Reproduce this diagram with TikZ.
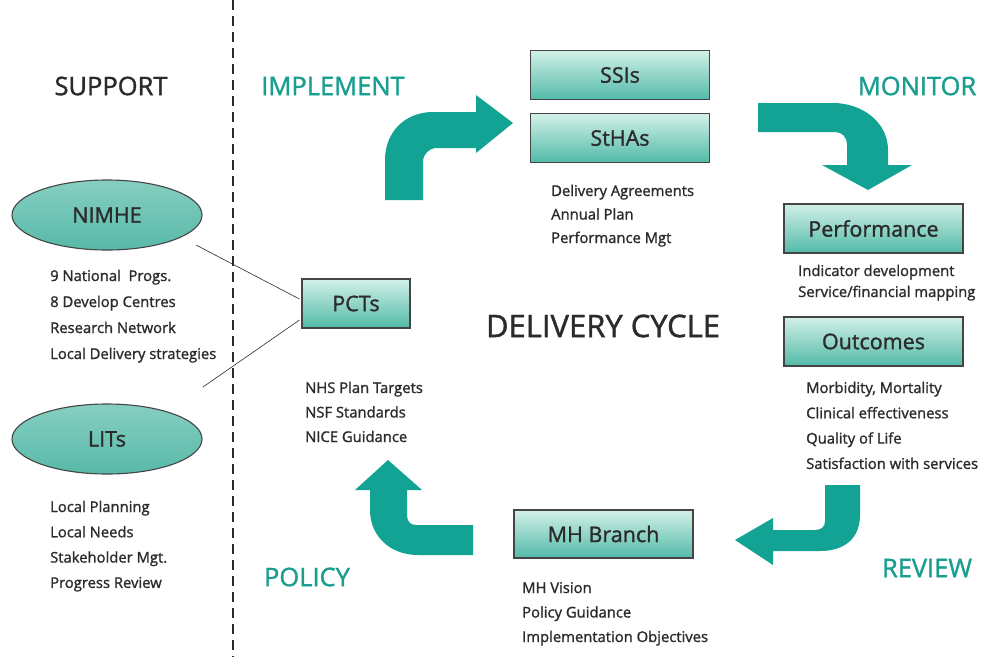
\documentclass[tikz,border=0pt]{standalone}
\usepackage{fontspec}
\setmainfont{Open Sans}[FakeBold=1.3]
\usetikzlibrary{shapes.geometric}
\definecolor{txt}{HTML}{2B2B2B}
\definecolor{headteal}{HTML}{1A9E90}
\definecolor{flow}{HTML}{13A394}
\definecolor{boxedge}{HTML}{454545}
\definecolor{boxtop}{HTML}{D2F0E8}
\definecolor{boxbot}{HTML}{52BAA8}
\definecolor{elltop}{HTML}{86CFC1}
\definecolor{ellmid}{HTML}{D0F0E8}
\definecolor{ellbot}{HTML}{58B9A8}

% one left-aligned line per entry: name, x, first baseline, line step, entries
\newcommand{\listlines}[5]{%
  \foreach \ln [count=\k from 0] in {#5}
    \node[listtext] (#1-\k) at (#2, {#3+\k*#4}) {\ln};}

\begin{document}
\begin{tikzpicture}[x=1pt, y=-1pt,
  box/.style={draw=boxedge, line width=1.1pt, top color=boxtop, bottom color=boxbot,
    minimum width=179pt, minimum height=49pt, inner sep=0pt, text=txt,
    font=\fontsize{21.5}{24}\selectfont},
  blob/.style={ellipse, draw=boxedge, line width=1.1pt, top color=elltop,
    middle color=ellmid, bottom color=ellbot, minimum width=190pt,
    minimum height=70pt, inner sep=0pt, text=txt, font=\fontsize{21.5}{24}\selectfont},
  heading/.style={text=headteal, font=\fontsize{25.5}{28}\selectfont, inner sep=0pt},
  sidehead/.style={text=txt, font=\fontsize{25.5}{28}\selectfont, inner sep=0pt},
  listtext/.style={anchor=base west, text=txt, inner sep=0pt,
    font=\fontsize{14.8}{17}\selectfont},
  link/.style={draw=txt, line width=0.6pt},
  flowarrow/.style={fill=flow, draw=none}]

\useasboundingbox (0,0) rectangle (983,657);
\fill[white] (0,0) rectangle (983,657);

% divider between support and the cycle
\draw[draw=txt, line width=1.2pt, dash pattern=on 10pt off 6pt] (233,0) -- (233,657);

% titles
\node[sidehead] (support) at (111,86) {SUPPORT};
\node[heading] (implement) at (333,86) {IMPLEMENT};
\node[heading] (monitor) at (917,86) {MONITOR};
\node[heading] (policy) at (307,577) {POLICY};
\node[heading] (review) at (927,568) {REVIEW};
\node[sidehead, font=\fontsize{31}{34}\selectfont] (cycle) at (603,326) {DELIVERY CYCLE};

% boxes
\node[box] (ssis) at (620,75) {SSIs};
\node[box] (sthas) at (620,138) {StHAs};
\node[box] (perf) at (873.5,228.5) {Performance};
\node[box] (outc) at (873.5,341.5) {Outcomes};
\node[box, minimum width=108pt] (pcts) at (356,303.5) {PCTs};
\node[box, minimum height=48pt] (mhb) at (603.5,534) {MH Branch};

% support bodies
\node[blob] (nimhe) at (107,215) {NIMHE};
\node[blob] (lits) at (107,439) {LITs};

% item lists
\listlines{dlv}{551}{196}{23.5}{Delivery Agreements, Annual Plan, Performance Mgt}
\listlines{ind}{798}{276}{21}{Indicator development, Service/financial mapping}
\listlines{res}{806}{393}{25.3}{{Morbidity, Mortality}, Clinical effectiveness, Quality of Life, Satisfaction with services}
\listlines{tgt}{305}{393}{24.5}{NHS Plan Targets, NSF Standards, NICE Guidance}
\listlines{mhv}{522}{593}{24.5}{MH Vision, Policy Guidance, Implementation Objectives}
\listlines{nat}{50}{281}{26}{9 National\ \ Progs., 8 Develop Centres, Research Network, Local Delivery strategies}
\listlines{loc}{50}{512}{25.3}{Local Planning, Local Needs, Stakeholder Mgt., Progress Review}

% links from the support bodies to the PCTs
\coordinate (nimhe-tail) at (196,245);
\coordinate (lits-tail) at (203,387);
\draw[link] (nimhe-tail) -- ([xshift=-2pt, yshift=4.5pt]pcts.west);
\draw[link] (lits-tail) -- ([xshift=-2pt, yshift=-16.5pt]pcts.west);

% cycle arrows
% implement: up, then right
\path[flowarrow] (385,200) -- (385,160) .. controls (385,132) and (405,112) .. (433,112)
  -- (476,112) -- (476,95) -- (513,123) -- (476,153) -- (476,148) -- (437,148)
  .. controls (429,148) and (423,154) .. (423,162) -- (423,200) -- cycle;
% monitor: right, then down
\path[flowarrow] (758,103) -- (833,103) .. controls (862,103) and (888,122) .. (888,150)
  -- (888,165) -- (912,165) -- (868,190) -- (822,165) -- (847,165) -- (847,145)
  .. controls (847,137) and (842,132) .. (835,132) -- (758,132) -- cycle;
% review: down, then left
\path[flowarrow] (825,485) -- (860,485) -- (860,515) .. controls (860,538) and (845,551) .. (820,551)
  -- (773,551) -- (773,565) -- (735,540) -- (773,518) -- (773,530) -- (815,530)
  .. controls (821,530) and (825,527) .. (825,521) -- cycle;
% policy: left, then up
\path[flowarrow] (388,460) -- (422,490) -- (407,490) -- (407,515)
  .. controls (407,521) and (410,525) .. (416,525) -- (473,525) -- (473,555) -- (418,555)
  .. controls (390,555) and (370,536) .. (370,510) -- (370,490) -- (355,490) -- cycle;

\end{tikzpicture}
\end{document}
